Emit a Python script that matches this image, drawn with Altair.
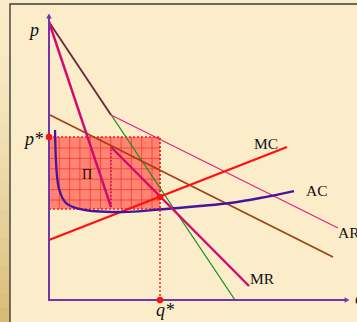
import altair as alt
import numpy as np
import pandas as pd

# Kinked demand (AR): upper branch down to the kink, then the flatter branch
ar_q = [0.0, 6.2, 28.9]
ar_p = [27.8, 18.5, 7.2]
# Upper demand extended to the q-axis
d_up_q = [0.0, 18.6]
d_up_p = [27.8, 0.0]
# Lower demand extended back to the p-axis
d_low_q = [0.1, 28.4]
d_low_p = [18.5, 4.3]
# Marginal revenue: two branches with a vertical gap at the kink
mr1_q = [0.0, 6.2]
mr1_p = [27.8, 9.3]
mr2_q = [6.2, 20.0]
mr2_p = [15.3, 1.4]
# Marginal cost
mc_q = [0.0, 23.8]
mc_p = [6.0, 15.3]
# Average cost
ac_q = [0.6, 0.65, 0.75, 0.9, 1.1, 1.6, 2.4, 3.6, 5.1, 7.4, 11.1, 15.1, 18.1, 21.1, 24.5]
ac_p = [17.0, 15.0, 13.0, 11.6, 10.8, 9.8, 9.3, 9.0, 8.85, 8.8, 9.05, 9.4, 9.7, 10.2, 10.9]
# Equilibrium
q_star = 11.1
p_star = 16.3
ac_star = 9.1
mc_star = 10.3

SERIF = "Liberation Serif"
X = alt.Scale(domain=[-4.9, 30.8], nice=False, zero=False)
Y = alt.Scale(domain=[-2.2, 30.0], nice=False, zero=False)


def xq(field="q"):
    return alt.X(f"{field}:Q", scale=X, axis=None)


def yp(field="p"):
    return alt.Y(f"{field}:Q", scale=Y, axis=None)


def line(q, p, **mk):
    df = pd.DataFrame({"q": q, "p": p, "i": range(len(q))})
    return alt.Chart(df).mark_line(**mk).encode(x=xq(), y=yp(), order="i:O")


one = pd.DataFrame({"k": [0]})

# slide background: tan strip that darkens towards the bottom, built from thin bands
top_rgb = np.array([250, 236, 200])
bot_rgb = np.array([215, 186, 115])
edges = np.linspace(0, 322, 24)
t = ((edges[:-1] + edges[1:]) / 2 / 322) ** 1.6
cols = ["#%02x%02x%02x" % tuple(np.round(top_rgb + (bot_rgb - top_rgb) * v).astype(int)) for v in t]
bands = pd.DataFrame({"y0": edges[:-1], "y1": edges[1:] + 0.5, "c": cols})
bg = alt.Chart(bands).mark_rect().encode(
    x=alt.value(0), x2=alt.value(357),
    y=alt.Y("y0:Q", scale=alt.Scale(domain=[0, 322], range=[0, 322]), axis=None),
    y2="y1:Q",
    fill=alt.Fill("c:N", scale=None),
)

panel = alt.Chart(one).mark_rect(
    fill="#FBEDCA", stroke="#3c3c3c", strokeWidth=1.4
).encode(x=alt.value(10), x2=alt.value(420), y=alt.value(4), y2=alt.value(420))

# profit rectangle
box = pd.DataFrame({"q0": [0.0], "q1": [q_star], "p0": [ac_star], "p1": [p_star]})
profit = alt.Chart(box).mark_rect(fill="#FF8474").encode(
    x=xq("q0"), x2="q1:Q", y=yp("p0"), y2="p1:Q"
)

step_q, step_p = 1.03, 1.04
gq = np.arange(step_q, q_star - 0.3, step_q)
gp = np.arange(p_star - 1.1, ac_star + 0.3, -step_p)
vgrid = pd.DataFrame({"q": gq, "p0": ac_star, "p1": p_star})
hgrid = pd.DataFrame({"p": gp, "q0": 0.0, "q1": q_star})
grid_v = alt.Chart(vgrid).mark_rule(color="#F2352B", strokeWidth=1, opacity=0.75).encode(
    x=xq(), y=yp("p0"), y2="p1:Q"
)
grid_h = alt.Chart(hgrid).mark_rule(color="#F2352B", strokeWidth=1, opacity=0.75).encode(
    y=yp(), x=xq("q0"), x2="q1:Q"
)
profit_edge = alt.Chart(box).mark_rect(
    fillOpacity=0, stroke="#FF1A1A", strokeWidth=1.5, strokeDash=[2, 2]
).encode(x=xq("q0"), x2="q1:Q", y=yp("p0"), y2="p1:Q")

# axes with arrow heads
AXIS = "#7236A8"
y_axis = line([0.0, 0.0], [-0.05, 28.4], color=AXIS, strokeWidth=2)
x_axis = line([-0.1, 29.8], [0.0, 0.0], color=AXIS, strokeWidth=2)
up_head = alt.Chart(pd.DataFrame({"q": [0.0], "p": [28.4]})).mark_point(
    filled=True, size=32, color=AXIS, opacity=1, shape="triangle-up"
).encode(x=xq(), y=yp())
right_head = alt.Chart(pd.DataFrame({"q": [29.8], "p": [0.0]})).mark_point(
    filled=True, size=32, color=AXIS, opacity=1, shape="triangle-right"
).encode(x=xq(), y=yp())

green = line(d_up_q, d_up_p, color="#17901A", strokeWidth=1.3)
brown = line(d_low_q, d_low_p, color="#A23E10", strokeWidth=1.6)
ar = line(ar_q[1:], ar_p[1:], color="#E0207E", strokeWidth=1.1)
ar_top = line(ar_q[:2], ar_p[:2], color="#7E2848", strokeWidth=1.8)
mc = line(mc_q, mc_p, color="#FF1010", strokeWidth=2.4)
ac = line(ac_q, ac_p, color="#4514A0", strokeWidth=2.3, interpolate="monotone")
mr1 = line(mr1_q, mr1_p, color="#D3096F", strokeWidth=2.4)
mr2 = line(mr2_q, mr2_p, color="#D3096F", strokeWidth=2.4)
mr_gap = line([mr1_q[1], mr2_q[0]], [mr1_p[1], mr2_p[0]], color="#D3096F",
              strokeWidth=1.6, strokeDash=[1.5, 2])
q_drop = line([q_star, q_star], [0.0, p_star], color="#FF1A1A", strokeWidth=1.5,
              strokeDash=[2, 2])

pts = pd.DataFrame({"q": [0.0, q_star, q_star], "p": [p_star, mc_star, 0.0]})
dots = alt.Chart(pts).mark_point(filled=True, size=42, color="#FF1010", opacity=1).encode(
    x=xq(), y=yp()
)

italic = pd.DataFrame({
    "t": ["p", "p*", "q*", "q"],
    "q": [-1.9, -2.4, 10.7, 30.6],
    "p": [26.4, 15.5, -1.6, -0.4],
})
upright = pd.DataFrame({
    "t": ["MC", "AC", "AR", "MR"],
    "q": [20.5, 25.7, 28.9, 20.1],
    "p": [15.1, 10.4, 6.2, 1.6],
})
txt_i = alt.Chart(italic).mark_text(
    font=SERIF, fontStyle="italic", fontSize=18, align="left", baseline="alphabetic", color="#111111"
).encode(x=xq(), y=yp(), text="t:N")
txt_u = alt.Chart(upright).mark_text(
    font=SERIF, fontSize=15.5, align="left", baseline="alphabetic", color="#111111"
).encode(x=xq(), y=yp(), text="t:N")
pi_df = pd.DataFrame({"t": ["\u03a0"], "q": [3.8], "p": [12.1]})
txt_pi = alt.Chart(pi_df).mark_text(
    font=SERIF, fontSize=14, align="center", baseline="alphabetic", color="#111111"
).encode(x=xq(), y=yp(), text="t:N")

chart = alt.layer(
    bg, panel, profit, grid_v, grid_h, profit_edge,
    green, brown, ar, ar_top, mc, ac, mr1, mr2, mr_gap, q_drop,
    y_axis, x_axis, up_head, right_head, dots, txt_i, txt_u, txt_pi,
).resolve_scale(y="independent").properties(
    width=357, height=322, padding=0, autosize=alt.AutoSizeParams(type="none")
).configure_view(stroke=None)

chart.save("out.html", embed_options={"renderer": "svg", "actions": False})
